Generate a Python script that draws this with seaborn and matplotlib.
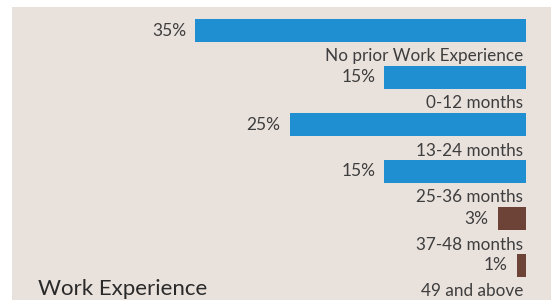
import matplotlib
matplotlib.use("Agg")
import matplotlib.pyplot as plt
import seaborn as sns
import pandas as pd

categories = ["No prior Work Experience", "0-12 months", "13-24 months",
              "25-36 months", "37-48 months", "49 and above"]
values = [35, 15, 25, 15, 3, 1]
value_labels = ["35%", "15%", "25%", "15%", "3%", "1%"]
bar_colors = ["#1f8fd2", "#1f8fd2", "#1f8fd2", "#1f8fd2", "#6d4337", "#6d4337"]
title = "Work Experience"

sns.set_theme(style="white")
plt.rcParams["font.family"] = ["Lato", "DejaVu Sans"]

W, H = 551, 301
fig = plt.figure(figsize=(W / 100, H / 100), dpi=100, facecolor="white")
# beige panel region in pixels
x0, x1, y0, y1 = 12, 551, 7, 300
ax = fig.add_axes([x0 / W, 1 - y1 / H, (x1 - x0) / W, (y1 - y0) / H])
bg = "#e9e1dc"
ax.set_facecolor(bg)

df = pd.DataFrame({"cat": categories, "val": values})
sns.barplot(data=df, y="cat", x="val", hue="cat", palette=bar_colors,
            orient="h", width=0.47, legend=False, ax=ax, saturation=1,
            linewidth=0, edgecolor="none")

# pixel -> data mapping
px_per_unit = (526 - 195) / 35.0
ax.set_xlim((526 - x0) / px_per_unit, -(x1 - 526) / px_per_unit)
step = 47.0
c0 = 30.5
ax.set_ylim((y1 - c0) / step, (y0 - c0) / step)

for i, (v, lab, cat) in enumerate(zip(values, value_labels, categories)):
    ax.annotate(lab, xy=(v, i), xytext=(-9, 0), textcoords="offset pixels",
                ha="right", va="center", fontsize=12.5, color="#3e3e3e")
    ax.annotate(cat, xy=(0, i), xytext=(-3, -31), textcoords="offset pixels",
                ha="right", va="baseline", fontsize=12.3, color="#3e3e3e")

ax.set_xlabel("")
ax.set_ylabel("")
ax.set_xticks([])
ax.set_yticks([])
for s in ax.spines.values():
    s.set_visible(False)

fig.text(38 / W, 1 - 295 / H, title, ha="left", va="baseline",
         fontsize=16, color="#2a2a2a")

fig.savefig("out.png", dpi=100, facecolor="white")
